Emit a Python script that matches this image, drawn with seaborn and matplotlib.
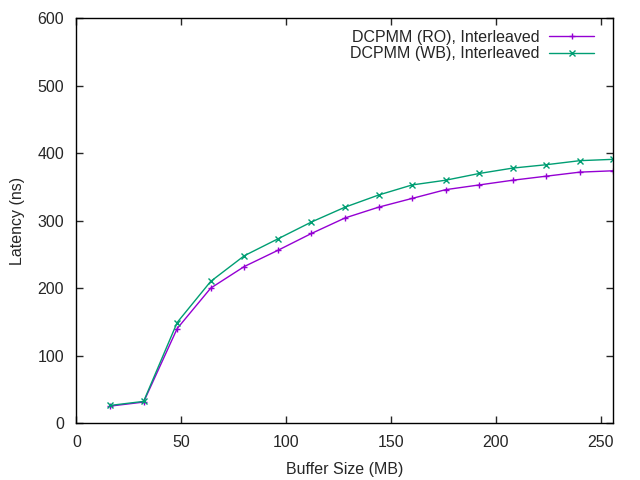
import pandas as pd
import matplotlib
matplotlib.use("Agg")
import matplotlib.pyplot as plt
import seaborn as sns

# buffer sizes (MB) and latencies (ns)
buffer_mb = [16, 32, 48, 64, 80, 96, 112, 128, 144, 160, 176, 192, 208, 224, 240, 256]
lat_ro = [25, 31, 140, 200, 232, 256, 281, 304, 320, 333, 346, 353, 360, 366, 372, 374]
lat_wb = [26, 32, 149, 210, 248, 273, 298, 320, 338, 353, 360, 370, 378, 383, 389, 391]
labels = ["DCPMM (RO), Interleaved", "DCPMM (WB), Interleaved"]
colors = ["#9400d3", "#009e73"]
markers = ["+", "x"]

sns.set_style("ticks")
plt.rcParams["font.family"] = ["Liberation Sans", "DejaVu Sans"]
plt.rcParams["font.size"] = 11.5

fig, ax = plt.subplots(figsize=(6.4, 4.8), dpi=100)
fig.subplots_adjust(left=0.1195, right=0.9585, top=0.9617, bottom=0.1188)

for lat, lab, col, mk in zip([lat_ro, lat_wb], labels, colors, markers):
    df = pd.DataFrame({"size": buffer_mb, "latency": lat})
    sns.lineplot(data=df, x="size", y="latency", color=col, marker=mk,
                 markeredgecolor=col, markersize=5, markeredgewidth=1.0,
                 linewidth=1.0, label=lab, ax=ax)

ax.set_xlim(0, 256)
ax.set_ylim(0, 600)
ax.set_xticks([0, 50, 100, 150, 200, 250])
ax.set_yticks(range(0, 601, 100))
ax.tick_params(direction="in", top=True, right=True, length=5, width=1,
               labelsize=11.5, pad=9)
for s in ax.spines.values():
    s.set_linewidth(1.0)
    s.set_color("black")
ax.set_xlabel("Buffer Size (MB)", fontsize=11.5, labelpad=8)
ax.set_ylabel("Latency (ns)", fontsize=11.5, labelpad=9)

ax.legend(loc="upper right", bbox_to_anchor=(0.985, 1.0), frameon=False,
          markerfirst=False, handlelength=2.8, handletextpad=0.6,
          fontsize=11.5, borderaxespad=0.3, labelspacing=0.1)

fig.savefig("out.png", dpi=100)
